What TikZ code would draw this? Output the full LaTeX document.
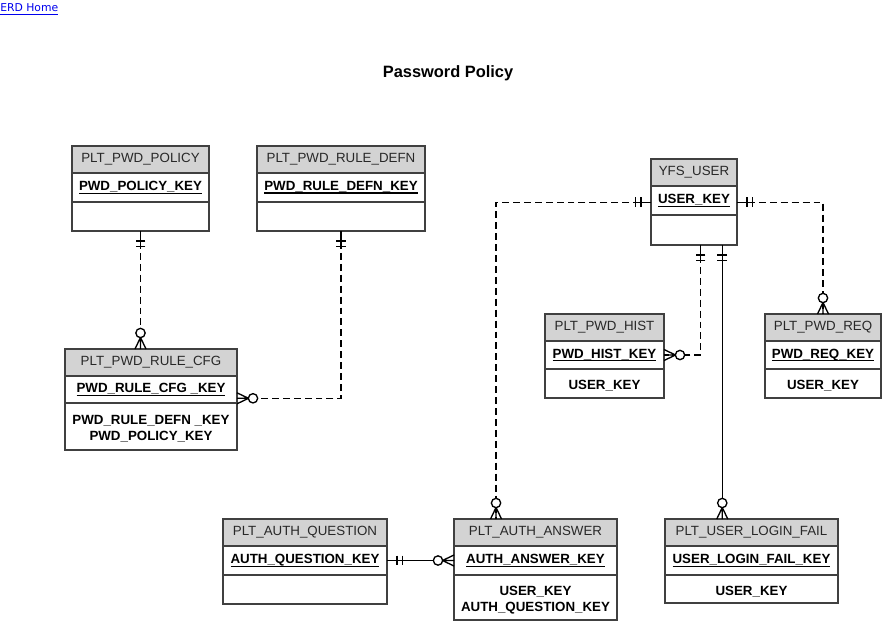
\documentclass[tikz,border=0pt]{standalone}
\usepackage{fontspec}
\setmainfont{Liberation Sans}
\newfontfamily\tahomalike{DejaVu Sans}
\definecolor{hdrgray}{RGB}{211,211,211}
\definecolor{boxline}{RGB}{64,64,64}
\definecolor{hdrtext}{RGB}{40,40,40}
\definecolor{linkblue}{RGB}{0,0,238}
\newcommand\ulkey[1]{\leavevmode\setbox0\hbox{#1}\rlap{\vrule height -1.5pt depth 2.4pt width \wd0}\box0}
\tikzset{
  ent/.style={draw=boxline, line width=0.85pt, inner sep=0pt, outer sep=0pt, anchor=north west, text=black},
  hdr/.style={ent, fill=hdrgray, font=\fontsize{10}{12}\selectfont, text=hdrtext},
  krow/.style={ent, fill=white, font=\bfseries\fontsize{10}{12}\selectfont},
  arow/.style={ent, fill=white},
  atext/.style={inner sep=0pt, font=\bfseries\fontsize{10}{12}\selectfont, align=center},
  conn/.style={draw=black, line width=1pt},
  dsh/.style={conn, dash pattern=on 5.2pt off 3pt},
}
% name, x, y, width, key height, attr height, title, key, attrs
\newcommand\ent[9]{%
  \node[hdr, minimum width=#4*0.75pt, minimum height=27*0.75pt] (#1h) at (#2,#3) {#7};
  \node[krow, minimum width=#4*0.75pt, minimum height=#5*0.75pt] (#1k) at (#1h.south west) {\ulkey{#8}};
  \node[arow, minimum width=#4*0.75pt, minimum height=#6*0.75pt] (#1a) at (#1k.south west) {};
  \node[atext] (#1t) at ([yshift=-1.8pt]#1a.center) {#9};
}
\newcommand\onemk[2]{\begin{scope}[shift={(#1)}, rotate=#2]
  \draw[conn] (0,0) -- (17,0) (10,-4.8) -- (10,4.8) (15.5,-4.8) -- (15.5,4.8);
\end{scope}}
\newcommand\manymk[2]{\begin{scope}[shift={(#1)}, rotate=#2]
  \draw[conn] (0,-5.5) -- (11.5,0) -- (0,5.5) (0,0) -- (11.5,0);
  \draw[conn, fill=white] (16,0) circle[radius=3.5pt];
\end{scope}}
\begin{document}
\begin{tikzpicture}[x=0.75pt, y=-0.75pt]
\fill[white] (0,0) rectangle (882,622);
\useasboundingbox (0,0) rectangle (882,622);

\node[anchor=west, inner sep=0pt, font=\tahomalike\fontsize{8.1}{10}\selectfont, text=linkblue] (home) at (0,9.5) {\ulkey{ERD Home}};
\node[font=\bfseries\fontsize{12.3}{14}\selectfont] (title) at (448,73) {Password Policy};

\ent{pol}{72}{146}{137}{29}{29}{PLT\_PWD\_POLICY}{PWD\_POLICY\_KEY}{}
\ent{defn}{257}{146}{168}{29}{29}{PLT\_PWD\_RULE\_DEFN}{PWD\_RULE\_DEFN\_KEY}{}
\ent{cfg}{65}{349}{172}{27}{47}{PLT\_PWD\_RULE\_CFG}{PWD\_RULE\_CFG \_KEY}{PWD\_RULE\_DEFN \_KEY\\PWD\_POLICY\_KEY}
\ent{yfs}{651}{159}{86}{29}{30}{YFS\_USER}{USER\_KEY}{}
\ent{hist}{545}{314}{119}{28}{29}{PLT\_PWD\_HIST}{PWD\_HIST\_KEY}{USER\_KEY}
\ent{req}{765}{314}{116}{28}{29}{PLT\_PWD\_REQ}{PWD\_REQ\_KEY}{USER\_KEY}
\ent{q}{223}{519}{164}{29}{29}{PLT\_AUTH\_QUESTION}{AUTH\_QUESTION\_KEY}{}
\ent{ans}{454}{519}{163}{29}{45}{PLT\_AUTH\_ANSWER}{AUTH\_ANSWER\_KEY}{USER\_KEY\\AUTH\_QUESTION\_KEY}
\ent{fail}{665}{519}{173}{29}{28}{PLT\_USER\_LOGIN\_FAIL}{USER\_LOGIN\_FAIL\_KEY}{USER\_KEY}

\coordinate (cfgT) at (pola.south |- cfgh.north);
\coordinate (cfgR) at ([yshift=-6.6pt]cfgk.east);
\coordinate (yfsL) at ([yshift=-1.3pt]yfsk.west);
\coordinate (yfsR) at ([yshift=-1.3pt]yfsk.east);
\coordinate (ansT) at ([xshift=-29.6pt]ansh.north);
\coordinate (yfsB1) at ([xshift=5pt]yfsa.south);
\coordinate (yfsB2) at ([xshift=21.2pt]yfsa.south);
\coordinate (failT) at (yfsB2 |- failh.north);

\draw[dsh] (pola.south) -- (cfgT);
\draw[dsh] (defna.south) |- (cfgR);
\draw[dsh] (yfsL) -| (ansT);
\draw[dsh] (yfsR) -| (reqh.north);
\draw[dsh] (yfsB1) |- (histk.east);
\draw[conn] (yfsB2) -- (failT);
\draw[conn] (qk.east) -- (ansk.west);

\onemk{pola.south}{-90} \manymk{cfgT}{90}
\onemk{defna.south}{-90} \manymk{cfgR}{0}
\onemk{yfsL}{180} \manymk{ansT}{90}
\onemk{yfsR}{0} \manymk{reqh.north}{90}
\onemk{yfsB1}{-90} \manymk{histk.east}{0}
\onemk{yfsB2}{-90} \manymk{failT}{90}
\onemk{qk.east}{0} \manymk{ansk.west}{180}
\end{tikzpicture}
\end{document}
